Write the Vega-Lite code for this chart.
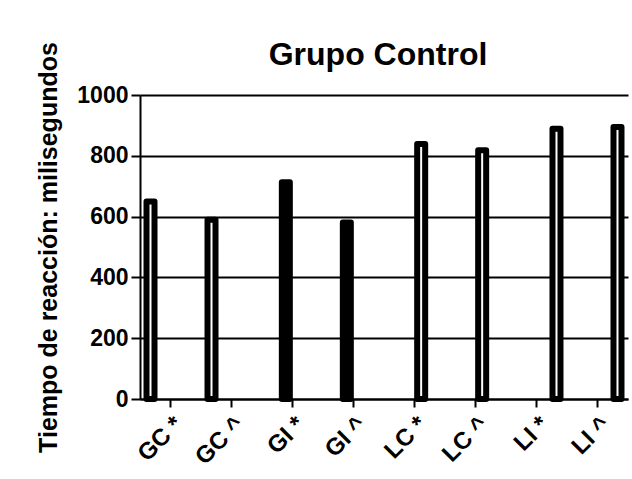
{
  "$schema": "https://vega.github.io/schema/vega-lite/v6.json",
  "autosize": "none",
  "padding": {"left": 140, "top": 95, "right": 4, "bottom": 80},
  "width": 488,
  "height": 304,
  "background": "white",
  "title": {
    "text": "Grupo Control",
    "font": "Liberation Sans",
    "fontSize": 32,
    "fontWeight": "bold",
    "color": "black",
    "anchor": "middle",
    "frame": "group",
    "offset": -30,
    "dx": -6
  },
  "data": {
    "values": [
      {"condicion": "GC *", "grupo": "GC", "tiempo": 650},
      {"condicion": "GC ^", "grupo": "GC", "tiempo": 590},
      {"condicion": "GI *", "grupo": "GI", "tiempo": 713},
      {"condicion": "GI ^", "grupo": "GI", "tiempo": 581},
      {"condicion": "LC *", "grupo": "LC", "tiempo": 839},
      {"condicion": "LC ^", "grupo": "LC", "tiempo": 818},
      {"condicion": "LI *", "grupo": "LI", "tiempo": 889},
      {"condicion": "LI ^", "grupo": "LI", "tiempo": 895}
    ]
  },
  "mark": {"type": "bar", "width": 8, "stroke": "black", "strokeWidth": 6, "strokeJoin": "round"},
  "encoding": {
    "x": {
      "field": "condicion",
      "type": "nominal",
      "sort": null,
      "scale": {"paddingInner": 0.126, "paddingOuter": 0.063},
      "axis": {
        "title": null,
        "labelAngle": -45,
        "labelAlign": "right",
        "labelBaseline": "top",
        "labelFont": "Liberation Sans",
        "labelFontSize": 24,
        "labelFontWeight": "bold",
        "labelColor": "black",
        "labelPadding": 5,
        "labelDx": -6,
        "tickSize": 8,
        "tickWidth": 2,
        "tickColor": "black",
        "domainColor": "black",
        "domainWidth": 2,
        "grid": false
      }
    },
    "xOffset": {"field": "grupo", "type": "nominal", "sort": ["GC", "GI", "LC", "LI"], "scale": {"paddingInner": 0, "paddingOuter": 0}},
    "y": {
      "field": "tiempo",
      "type": "quantitative",
      "scale": {"domain": [0, 1000], "nice": false},
      "axis": {
        "title": "Tiempo de reacción: milisegundos",
        "titleFont": "Liberation Sans",
        "titleFontSize": 25,
        "titleFontWeight": "bold",
        "titleColor": "black",
        "titlePadding": 15,
        "values": [0, 200, 400, 600, 800, 1000],
        "format": "d",
        "labelFont": "Liberation Sans",
        "labelFontSize": 23,
        "labelFontWeight": "bold",
        "labelColor": "black",
        "labelPadding": 3,
        "tickSize": 9,
        "tickWidth": 2,
        "tickColor": "black",
        "domainColor": "black",
        "domainWidth": 2,
        "grid": true,
        "gridColor": "black",
        "gridWidth": 2,
        "gridOpacity": 1
      }
    },
    "fill": {
      "field": "grupo",
      "type": "nominal",
      "scale": {"domain": ["GC", "GI", "LC", "LI"], "range": ["white", "black", "white", "white"]},
      "legend": null
    }
  },
  "config": {"view": {"stroke": null}}
}
